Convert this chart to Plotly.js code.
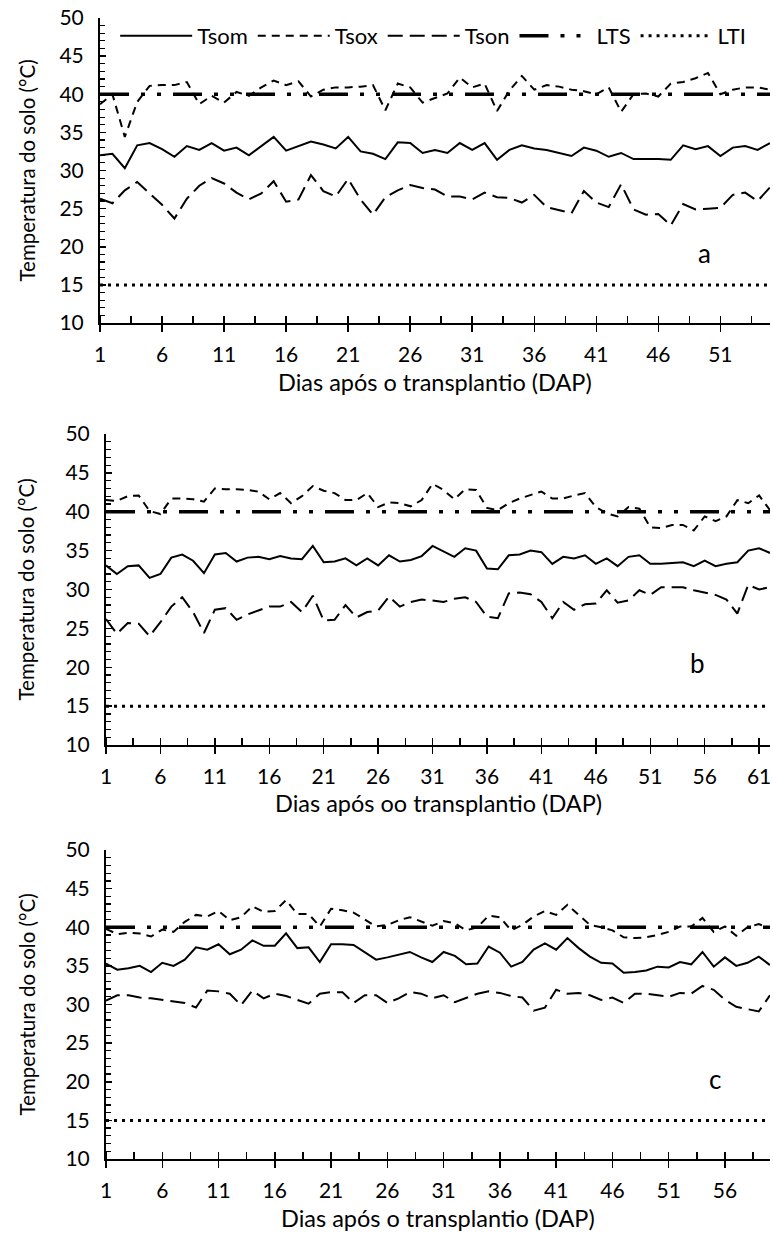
<!DOCTYPE html>
<html><head><meta charset="utf-8">
<script src="https://cdn.plot.ly/plotly-3.0.1.min.js"></script>
<style>html,body{margin:0;padding:0;background:#fff}#chart{width:773px;height:1248px}</style>
</head><body><div id="chart"></div>
<script>
// ---------- DATA ----------
const seriesNames = ['Tsom', 'Tsox', 'Tson', 'LTS', 'LTI'];
const panelLabels = ['a', 'b', 'c'];
const xTitles = ['Dias após o transplantio (DAP)', 'Dias após oo transplantio (DAP)', 'Dias após o transplantio (DAP)'];
const yTitle = 'Temperatura do solo (°C)';
const ltsValue = 40;
const ltiValue = 15;

const tsomA = [32.0,32.2,30.3,33.3,33.6,32.8,31.8,33.2,32.7,33.6,32.6,33.0,32.0,33.2,34.4,32.6,33.2,33.8,33.4,32.9,34.4,32.5,32.2,31.5,33.7,33.6,32.3,32.7,32.3,33.6,32.7,33.6,31.4,32.7,33.3,32.9,32.7,32.3,31.9,33.0,32.6,31.8,32.3,31.5,31.5,31.5,31.4,33.3,32.8,33.2,31.9,33.0,33.2,32.7,33.6];
const tsoxA = [38.7,40.0,34.4,39.0,41.1,41.2,41.2,41.6,38.7,39.8,38.9,40.3,39.8,40.9,41.8,41.2,41.7,39.7,40.6,40.9,40.9,41.0,41.2,37.9,41.4,40.9,38.9,39.5,40.1,42.2,40.9,41.4,37.8,40.5,42.4,40.6,41.2,41.0,40.6,40.4,40.0,40.9,37.7,40.0,40.1,39.7,41.4,41.6,42.1,42.8,40.0,40.6,40.9,40.9,40.6];
const tsonA = [26.3,25.7,27.4,28.5,27.0,25.5,23.7,26.3,28.0,29.0,28.3,27.1,26.2,27.0,28.6,25.9,26.2,29.4,27.3,26.6,28.9,26.2,24.2,26.5,27.4,28.1,27.7,27.5,26.6,26.6,26.2,27.1,26.5,26.4,25.8,26.8,25.2,24.8,24.4,27.3,25.8,25.2,28.2,24.9,24.2,24.3,22.8,25.6,24.9,25.0,25.1,26.8,27.1,26.0,27.8];

const tsomB = [33.1,32.0,33.0,33.1,31.5,32.0,34.1,34.5,33.7,32.1,34.5,34.7,33.6,34.1,34.2,33.9,34.3,34.0,33.9,35.6,33.5,33.6,34.0,33.1,34.0,33.1,34.4,33.6,33.8,34.3,35.6,34.9,34.2,35.3,35.0,32.7,32.6,34.4,34.5,35.0,34.8,33.3,34.2,34.0,34.4,33.3,34.0,33.0,34.2,34.4,33.3,33.3,33.4,33.5,33.0,33.7,33.0,33.3,33.5,35.0,35.3,34.7];
const tsoxB = [41.5,41.4,42.0,42.1,40.1,39.7,41.7,41.7,41.6,41.3,43.0,42.9,42.9,42.8,42.6,41.6,42.4,41.1,42.0,43.3,42.7,42.4,41.5,41.5,42.4,40.6,41.2,41.1,40.7,41.5,43.6,42.8,41.6,42.9,42.8,40.5,40.2,41.1,41.7,42.1,42.6,41.7,41.7,42.1,42.4,40.6,39.8,39.4,40.6,40.4,38.0,37.9,38.3,38.3,37.6,39.4,38.8,39.4,41.5,41.1,42.1,40.2];
const tsonB = [26.2,24.3,25.7,25.6,24.0,25.8,27.8,29.0,27.1,24.4,27.4,27.6,26.1,26.8,27.3,27.8,27.8,28.4,27.1,29.2,26.0,26.1,28.0,26.4,27.1,27.3,29.1,27.8,28.4,28.7,28.6,28.4,28.8,29.0,28.4,26.5,26.3,29.5,29.6,29.4,28.4,26.3,28.4,27.4,28.1,28.2,29.9,28.3,28.6,29.9,29.3,30.3,30.3,30.3,29.9,29.6,29.3,28.7,26.9,30.6,30.0,30.3];

const tsomC = [35.3,34.5,34.7,35.0,34.2,35.4,35.0,35.8,37.4,37.1,37.8,36.5,37.1,38.3,37.6,37.6,39.2,37.3,37.4,35.5,37.8,37.8,37.7,36.7,35.8,36.1,36.5,36.8,36.1,35.5,36.8,36.3,35.2,35.3,37.5,36.7,34.9,35.5,37.1,37.9,37.1,38.6,37.3,36.2,35.4,35.3,34.1,34.2,34.4,34.9,34.8,35.5,35.2,36.8,34.9,36.1,35.0,35.4,36.2,35.1];
const tsoxC = [39.8,39.1,39.3,39.2,38.8,39.7,39.4,40.7,41.6,41.4,42.1,40.9,41.3,42.7,42.0,42.1,43.5,41.7,41.7,40.1,42.4,42.2,41.9,41.0,40.1,40.3,40.9,41.3,40.7,40.2,40.8,40.5,39.6,40.0,41.5,41.3,39.6,40.3,41.4,42.1,41.6,42.9,41.6,40.3,40.0,39.6,38.7,38.6,38.7,39.0,39.4,40.1,40.1,41.2,39.4,40.1,38.9,40.0,40.4,39.9];
const tsonC = [30.5,31.2,31.2,30.9,30.8,30.6,30.4,30.2,29.6,31.8,31.7,31.4,29.9,31.8,30.8,31.4,31.1,30.6,30.1,31.4,31.6,31.6,30.2,31.2,31.2,30.2,30.8,31.6,31.4,30.8,31.2,30.3,30.8,31.4,31.7,31.5,31.1,30.9,29.2,29.6,31.9,31.4,31.5,31.2,30.6,30.9,30.2,31.4,31.4,31.2,31.0,31.5,31.4,32.4,31.9,30.6,29.7,29.4,29.1,31.2];

const yTickVals = [10, 15, 20, 25, 30, 35, 40, 45, 50];

// ---------- STYLE / LAYOUT ----------
const W = 773, H = 1248;
const FONT = 'Lato, "Open Sans", "Liberation Sans", sans-serif';
const lineStyles = {
  Tsom: {color: '#000', width: 2, dash: 'solid'},
  Tsox: {color: '#000', width: 2, dash: '8px,6px'},
  Tson: {color: '#000', width: 2, dash: '15px,7px'},
  LTS:  {color: '#000', width: 3.5, dash: '29px,12px,4px,12px,4px,12px'},
  LTI:  {color: '#000', width: 3, dash: '3px,5px'}
};
const panels = [
  {series: [tsomA, tsoxA, tsonA], xmax: 55, px: [100, 770], py: [18, 323], lab: [49.7, 19.2], xt: 382},
  {series: [tsomB, tsoxB, tsonB], xmax: 62, px: [106, 770], py: [434, 745], lab: [55.3, 20.6], xt: 803},
  {series: [tsomC, tsoxC, tsonC], xmax: 60, px: [106, 770], py: [850, 1159], lab: [55.1, 20.3], xt: 1218}
];

const traces = [];
const layout = {
  width: W, height: H,
  margin: {l: 0, r: 0, t: 0, b: 0},
  paper_bgcolor: '#fff', plot_bgcolor: 'rgba(0,0,0,0)',
  font: {family: FONT, size: 21, color: '#000'},
  showlegend: true,
  legend: {
    orientation: 'h', x: 0.149, y: 1 - 36 / H, xanchor: 'left', yanchor: 'middle',
    font: {family: FONT, size: 22, color: '#000'}, itemwidth: 72,
    bgcolor: 'rgba(0,0,0,0)', borderwidth: 0, traceorder: 'normal'
  },
  annotations: []
};

panels.forEach((p, i) => {
  const sfx = i === 0 ? '' : String(i + 1);
  const days = p.series[0].map((_, k) => k + 1);
  const all = [p.series[0], p.series[1], p.series[2], days.map(() => ltsValue), days.map(() => ltiValue)];
  seriesNames.forEach((name, j) => {
    traces.push({
      type: 'scatter', mode: 'lines', name: name, x: days, y: all[j],
      xaxis: 'x' + sfx, yaxis: 'y' + sfx,
      line: Object.assign({}, lineStyles[name]),
      showlegend: i === 0, legendgroup: name, hoverinfo: 'skip'
    });
  });
  layout['xaxis' + sfx] = {
    domain: [p.px[0] / W, p.px[1] / W], anchor: 'y' + sfx,
    range: [1, p.xmax], tick0: 1, dtick: 5, tickmode: 'linear',
    ticks: 'outside', ticklen: 7, tickwidth: 1.5, tickcolor: '#000',
    minor: {ticks: 'inside', dtick: 2.5, tick0: 1, ticklen: 7, tickwidth: 1.5, tickcolor: '#000', showgrid: false},
    showline: true, linecolor: '#000', linewidth: 2,
    showgrid: false, zeroline: false, ticklabelstandoff: 5,
    tickfont: {family: FONT, size: 21, color: '#000'}, fixedrange: true
  };
  layout['yaxis' + sfx] = {
    domain: [1 - p.py[1] / H, 1 - p.py[0] / H], anchor: 'x' + sfx,
    range: [10, 50], tickmode: 'array', tickvals: yTickVals,
    ticks: 'inside', ticklen: 6, tickwidth: 1.5, tickcolor: '#000',
    minor: {ticks: 'inside', dtick: 1, tick0: 10, ticklen: 5, tickwidth: 1.2, tickcolor: '#000', showgrid: false},
    showline: true, linecolor: '#000', linewidth: 2,
    showgrid: false, zeroline: false, ticklabelstandoff: 10,
    tickfont: {family: FONT, size: 21, color: '#000'}, fixedrange: true
  };
  layout.annotations.push({
    text: yTitle, xref: 'paper', yref: 'paper', x: 26 / W, y: 1 - (p.py[0] + p.py[1]) / 2 / H,
    xanchor: 'center', yanchor: 'middle', textangle: -90, showarrow: false,
    font: {family: FONT, size: 20.5, color: '#000'}
  });
  layout.annotations.push({
    text: xTitles[i], xref: 'paper', yref: 'paper', x: (p.px[0] + p.px[1]) / 2 / W, y: 1 - p.xt / H,
    xanchor: 'center', yanchor: 'middle', showarrow: false,
    font: {family: FONT, size: 23.5, color: '#000'}
  });
  layout.annotations.push({
    text: panelLabels[i], xref: 'x' + sfx, yref: 'y' + sfx, x: p.lab[0], y: p.lab[1],
    xanchor: 'center', yanchor: 'middle', showarrow: false,
    font: {family: FONT, size: 26, color: '#000'}
  });
});

Plotly.newPlot('chart', traces, layout, {staticPlot: true, displayModeBar: false});
</script>
</body></html>
